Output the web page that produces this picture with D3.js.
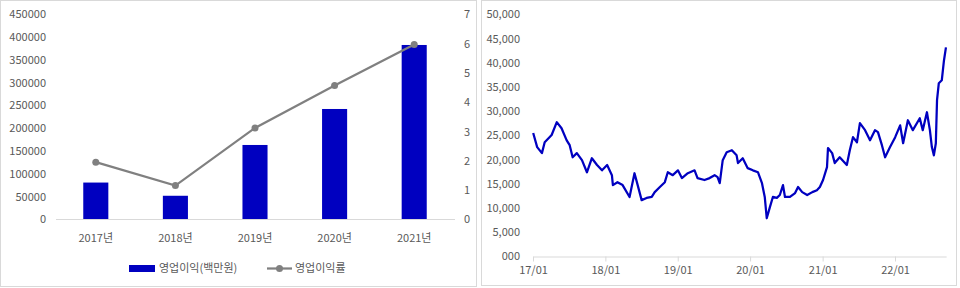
<!DOCTYPE html>
<html>
<head>
<meta charset="utf-8">
<script src="https://cdn.jsdelivr.net/npm/d3@7"></script>
<style>
  body { margin: 0; background: #fff; }
  svg text { font-family: "Noto Sans CJK KR", "Noto Sans", sans-serif; fill: #595959; }
</style>
</head>
<body>
<svg id="chart" width="960" height="288"></svg>
<script>
// left chart data
var years = ["2017년", "2018년", "2019년", "2020년", "2021년"];
var opProfit = [80000, 51000, 162500, 241500, 382000];   // 영업이익(백만원)
var opMargin = [1.94, 1.14, 3.11, 4.56, 5.96];           // 영업이익률
var leftTicks = [0, 50000, 100000, 150000, 200000, 250000, 300000, 350000, 400000, 450000];
var rightTicks = [0, 1, 2, 3, 4, 5, 6, 7];

// right chart data (stock price)
var priceDates = ["2017-01-02","2017-01-22","2017-02-15","2017-03-01","2017-04-05","2017-05-01","2017-05-25",
  "2017-06-20","2017-07-05","2017-07-20","2017-08-10","2017-09-05","2017-09-30","2017-10-25","2017-11-20",
  "2017-12-15","2018-01-10","2018-02-03","2018-02-08","2018-03-03","2018-03-29","2018-05-03","2018-05-28",
  "2018-06-13","2018-07-03","2018-07-28","2018-08-23","2018-09-07","2018-10-03","2018-10-28","2018-11-12",
  "2018-12-07","2019-01-02","2019-01-22","2019-02-21","2019-03-27","2019-04-11","2019-05-16","2019-06-11",
  "2019-07-06","2019-07-21","2019-08-01","2019-08-16","2019-09-05","2019-10-01","2019-10-25","2019-11-01",
  "2019-11-25","2019-12-20","2020-01-15","2020-02-10","2020-03-01","2020-03-15","2020-03-25","2020-04-10",
  "2020-04-25","2020-05-15","2020-05-30","2020-06-15","2020-06-25","2020-07-20","2020-08-15","2020-08-30",
  "2020-09-20","2020-10-15","2020-11-10","2020-12-03","2020-12-18","2021-01-03","2021-01-23","2021-01-28",
  "2021-02-18","2021-03-03","2021-03-28","2021-05-03","2021-05-18","2021-06-03","2021-06-23","2021-07-08",
  "2021-08-03","2021-08-28","2021-09-22","2021-10-07","2021-10-27","2021-11-12","2021-12-07","2022-01-02",
  "2022-01-27","2022-02-11","2022-03-07","2022-04-01","2022-05-06","2022-05-21","2022-06-11","2022-06-26",
  "2022-07-06","2022-07-16","2022-07-26","2022-08-01","2022-08-10","2022-08-25","2022-09-05","2022-09-15"];
var priceValues = [25400, 22500, 21250, 23500, 25000, 27650, 26400,
  23900, 22900, 20400, 21250, 19800, 17300, 20200, 18800,
  17700, 18800, 16700, 14650, 15250, 14650, 12200, 17100,
  14650, 11550, 12000, 12200, 13200, 14250, 15250, 17300,
  16700, 17700, 16100, 17100, 17700, 16100, 15700, 16100,
  16700, 16300, 15050, 19800, 21450, 21850, 20800, 19200,
  20200, 18150, 17700, 17300, 15050, 12200, 7800, 10100,
  12200, 12000, 12600, 14650, 12200, 12200, 13000, 14250,
  13200, 12600, 13200, 13600, 14250, 15700, 18350, 22300,
  21250, 19200, 20400, 18800, 21850, 24550, 23500, 27450,
  26000, 23900, 26000, 25600, 22900, 20400, 22500, 24550,
  27000, 23300, 28050, 26000, 28470, 26000, 29700, 26000,
  22500, 20800, 23300, 32200, 35700, 36300, 40400, 43100];
var priceTicks = [0, 5000, 10000, 15000, 20000, 25000, 30000, 35000, 40000, 45000, 50000];
var yearTicks = ["2017-01-01", "2018-01-01", "2019-01-01", "2020-01-01", "2021-01-01", "2022-01-01"];

var svg = d3.select("#chart");
var blue = "#0000c0", gray = "#808080", axisGray = "#d9d9d9";

// panel frames
svg.append("rect").attr("x", 0.5).attr("y", 0.5).attr("width", 476).attr("height", 286)
  .attr("fill", "none").attr("stroke", axisGray);
svg.append("rect").attr("x", 481.5).attr("y", 0.5).attr("width", 475).attr("height", 285)
  .attr("fill", "none").attr("stroke", axisGray);

// ---------- left: bars + line ----------
var x = d3.scaleBand().domain(years).range([56, 454]).paddingInner(0.685).paddingOuter(0.3425);
var y = d3.scaleLinear().domain([0, 450000]).range([219, 14]);
var y2 = d3.scaleLinear().domain([0, 7]).range([219, 14]);

var left = svg.append("g");

left.append("g").attr("transform", "translate(49,0)")
  .call(d3.axisLeft(y).tickValues(leftTicks).tickSize(0).tickFormat(d3.format("d")))
  .call(function(g) { g.select(".domain").remove(); })
  .selectAll("text").attr("font-size", 11).attr("dy", "0.35em");

left.append("g").attr("transform", "translate(461,0)")
  .call(d3.axisRight(y2).tickValues(rightTicks).tickSize(0).tickFormat(d3.format("d")))
  .call(function(g) { g.select(".domain").remove(); })
  .selectAll("text").attr("font-size", 11).attr("dy", "0.35em");

left.append("line").attr("x1", 56).attr("x2", 455).attr("y1", 219.5).attr("y2", 219.5)
  .attr("stroke", axisGray);

left.selectAll("rect.bar").data(opProfit).enter().append("rect")
  .attr("class", "bar")
  .attr("x", function(d, i) { return x(years[i]); })
  .attr("width", x.bandwidth())
  .attr("y", function(d) { return y(d); })
  .attr("height", function(d) { return y(0) - y(d); })
  .attr("fill", blue);

var cx = function(d, i) { return x(years[i]) + x.bandwidth() / 2; };

left.append("path").datum(opMargin)
  .attr("d", d3.line().x(cx).y(function(d) { return y2(d); }))
  .attr("fill", "none").attr("stroke", gray).attr("stroke-width", 2.25);

left.selectAll("circle.pt").data(opMargin).enter().append("circle")
  .attr("class", "pt").attr("cx", cx).attr("cy", function(d) { return y2(d); })
  .attr("r", 3.5).attr("fill", gray);

left.selectAll("text.xl").data(years).enter().append("text")
  .attr("class", "xl")
  .attr("x", function(d) { return x(d) + x.bandwidth() / 2; })
  .attr("y", 242).attr("text-anchor", "middle").attr("font-size", 11)
  .text(function(d) { return d; });

// legend
var lg = left.append("g");
lg.append("rect").attr("x", 129).attr("y", 265).attr("width", 26).attr("height", 7).attr("fill", blue);
lg.append("text").attr("x", 159).attr("y", 272).attr("font-size", 11).text("영업이익(백만원)");
lg.append("line").attr("x1", 267).attr("x2", 292).attr("y1", 268.5).attr("y2", 268.5)
  .attr("stroke", gray).attr("stroke-width", 2.25);
lg.append("circle").attr("cx", 279.5).attr("cy", 268.5).attr("r", 3.5).attr("fill", gray);
lg.append("text").attr("x", 295).attr("y", 272).attr("font-size", 11).text("영업이익률");

// ---------- right: stock price ----------
var parse = d3.timeParse("%Y-%m-%d");
var prices = priceDates.map(function(d, i) { return { date: parse(d), value: priceValues[i] }; });

// 17/01 sits at 533px, 22/01 at 895px; axis runs on to mid-Sep 2022
var xt = d3.scaleTime().domain([parse("2017-01-01"), parse("2022-01-01")]).range([533, 895]);
var endDate = parse("2022-09-16");
var endX = xt(endDate);
xt.domain([parse("2017-01-01"), endDate]).range([533, endX]);
var yp = d3.scaleLinear().domain([0, 50000]).range([256, 14]);

var right = svg.append("g");

right.append("g").attr("transform", "translate(523,0)")
  .call(d3.axisLeft(yp).tickValues(priceTicks).tickSize(0)
    .tickFormat(function(d) { return d === 0 ? "000" : d3.format(",")(d); }))
  .call(function(g) { g.select(".domain").remove(); })
  .selectAll("text").attr("font-size", 11).attr("dy", "0.35em");

var xa = right.append("g").attr("transform", "translate(0,256.5)")
  .call(d3.axisBottom(xt).tickValues(yearTicks.map(parse)).tickSize(5).tickSizeOuter(0)
    .tickFormat(d3.timeFormat("%y/%m")));
xa.select(".domain").attr("stroke", axisGray);
xa.selectAll(".tick line").attr("stroke", axisGray);
xa.selectAll("text").attr("font-size", 11).attr("dy", "0.9em");

right.append("path").datum(prices)
  .attr("d", d3.line().x(function(d) { return xt(d.date); }).y(function(d) { return yp(d.value); }))
  .attr("fill", "none").attr("stroke", blue).attr("stroke-width", 2.25).attr("stroke-linejoin", "round");
</script>
</body>
</html>
